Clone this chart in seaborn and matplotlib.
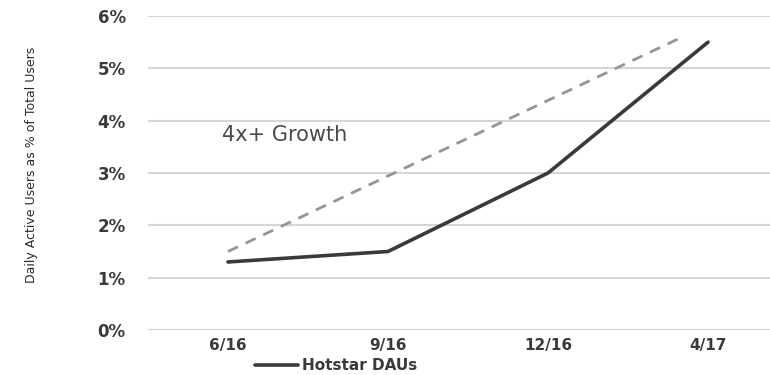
import numpy as np
import pandas as pd
import matplotlib
matplotlib.use("Agg")
import matplotlib.pyplot as plt
from matplotlib import font_manager
import seaborn as sns

# ---- data ----
categories = ["6/16", "9/16", "12/16", "4/17"]
dau_pct = [1.3, 1.5, 3.0, 5.5]          # Hotstar DAUs, % of total users
trend_pos = [0.0, 2.84]                  # dashed growth guide (category positions)
trend_pct = [1.5, 5.6]
y_ticks = [0, 1, 2, 3, 4, 5, 6]
annotation = "4x+ Growth"
series_label = "Hotstar DAUs"
y_label = "Daily Active Users as % of Total Users"

sns.set_theme(style="white")
plt.rcParams["font.family"] = ["DejaVu Sans"]

names = {f.name for f in font_manager.fontManager.ttflist}
if "Liberation Sans Narrow" in names:
    ylab_family, ylab_size = ["Liberation Sans Narrow", "DejaVu Sans"], 12
else:
    ylab_family, ylab_size = ["DejaVu Sans"], 9

fig = plt.figure(figsize=(7.7, 3.75), dpi=100)
ax = fig.add_axes([148 / 770, 45 / 375, 640 / 770, 314 / 375])

df = pd.DataFrame({"pos": np.arange(len(categories)), "pct": dau_pct})
tr = pd.DataFrame({"pos": trend_pos, "pct": trend_pct})

sns.lineplot(data=tr, x="pos", y="pct", ax=ax, color="#959595", lw=2.0,
             linestyle=(0, (4, 3)), legend=False, zorder=3)
sns.lineplot(data=df, x="pos", y="pct", ax=ax, color="#3a3a3a", lw=2.6,
             label=series_label, zorder=4, solid_joinstyle="round",
             solid_capstyle="round")

ax.set_xlim(-0.5, len(categories) - 0.5)
ax.set_ylim(0, 6)
ax.set_xticks(np.arange(len(categories)))
ax.set_xticklabels(categories)
ax.set_yticks(y_ticks)
ax.set_yticklabels([f"{v}%" for v in y_ticks])
ax.set_xlabel("")
ax.set_ylabel("")

for s in ax.spines.values():
    s.set_visible(False)
ax.yaxis.grid(True, color="#d6d6d6", lw=1.5)
ax.xaxis.grid(False)
ax.set_axisbelow(True)
ax.tick_params(axis="y", length=0, pad=16, labelsize=12, labelcolor="#3a3a3a")
ax.tick_params(axis="x", length=0, pad=6, labelsize=11, labelcolor="#3a3a3a")
for t in ax.get_xticklabels() + ax.get_yticklabels():
    t.set_fontweight("bold")

ax.text(-0.04, 3.73, annotation, ha="left", va="center", fontsize=15,
        color="#4a4a4a")

fig.text(32 / 770, 1 - 165 / 375, y_label, rotation=90, ha="center",
         va="center", family=ylab_family, fontsize=ylab_size, color="#2a2a2a")

leg = ax.legend(loc="center left", bbox_to_anchor=(255 / 770, 9 / 375),
                bbox_transform=fig.transFigure, frameon=False, borderpad=0,
                borderaxespad=0, handlelength=2.8, handletextpad=0.3,
                prop={"size": 11, "weight": "bold"})
for t in leg.get_texts():
    t.set_color("#3a3a3a")

fig.savefig("out.png", dpi=100)
